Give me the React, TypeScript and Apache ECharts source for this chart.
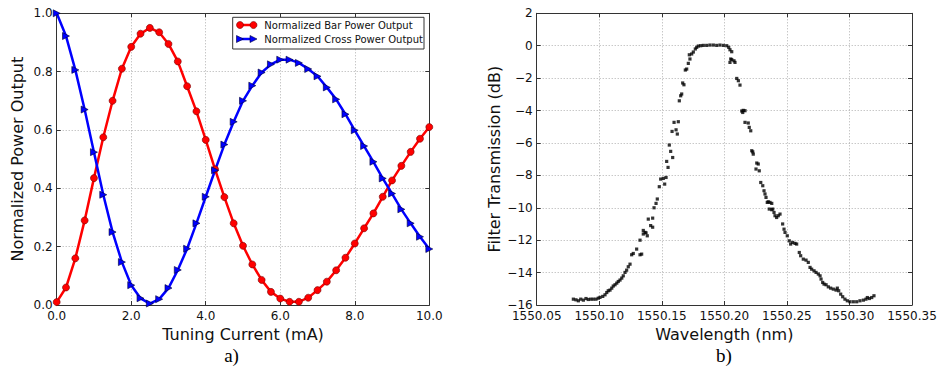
import React, { useEffect, useRef } from "react";
import * as echarts from "echarts";

// ---------- Data: panel a) ----------
const tuningCurrent = [
  0, 0.25, 0.5, 0.75, 1.0, 1.25, 1.5, 1.75, 2.0, 2.25, 2.5, 2.75, 3.0, 3.25, 3.5, 3.75,
  4.0, 4.25, 4.5, 4.75, 5.0, 5.25, 5.5, 5.75, 6.0, 6.25, 6.5, 6.75, 7.0, 7.25, 7.5, 7.75,
  8.0, 8.25, 8.5, 8.75, 9.0, 9.25, 9.5, 9.75, 10.0,
];
const barPower = [
  0.01, 0.06, 0.16, 0.29, 0.435, 0.575, 0.7, 0.81, 0.885, 0.93, 0.95, 0.935, 0.895, 0.835,
  0.75, 0.664, 0.566, 0.465, 0.37, 0.28, 0.203, 0.139, 0.086, 0.045, 0.022, 0.011, 0.011,
  0.025, 0.051, 0.08, 0.119, 0.162, 0.211, 0.263, 0.314, 0.371, 0.427, 0.477, 0.525, 0.57, 0.61,
];
const crossPower = [
  1.0, 0.922, 0.806, 0.67, 0.524, 0.378, 0.25, 0.147, 0.068, 0.023, 0.005, 0.02, 0.058, 0.12,
  0.193, 0.28, 0.371, 0.462, 0.55, 0.628, 0.7, 0.752, 0.797, 0.825, 0.841, 0.841, 0.83,
  0.809, 0.784, 0.746, 0.705, 0.654, 0.599, 0.545, 0.491, 0.434, 0.382, 0.328, 0.28, 0.234, 0.192,
];
const xTicksA = { min: 0, max: 10, interval: 2 };
const yTicksA = { min: 0, max: 1, interval: 0.2 };

// ---------- Data: panel b) ----------
const wavelength = [
  1550.0793, 1550.0814, 1550.0833, 1550.0852, 1550.0873, 1550.0894, 1550.0912, 1550.0932,
  1550.0952, 1550.0974, 1550.0992, 1550.1006, 1550.1028, 1550.1046, 1550.106, 1550.1072,
  1550.1086, 1550.11, 1550.1112, 1550.1126, 1550.114, 1550.1152, 1550.1166, 1550.118,
  1550.1192, 1550.1206, 1550.1219, 1550.1232, 1550.1246, 1550.1259, 1550.1272, 1550.1299,
  1550.1326, 1550.1339, 1550.1326, 1550.1352, 1550.1352, 1550.1366, 1550.1374, 1550.1384,
  1550.1392, 1550.1411, 1550.1427, 1550.1427, 1550.1438, 1550.1454, 1550.1464, 1550.148,
  1550.1491, 1550.1512, 1550.1523, 1550.1534, 1550.1539, 1550.155, 1550.156, 1550.1571,
  1550.1587, 1550.1582, 1550.1598, 1550.1614, 1550.1624, 1550.1632, 1550.164, 1550.1651,
  1550.1659, 1550.1667, 1550.1677, 1550.1688, 1550.1699, 1550.1712, 1550.172, 1550.1725,
  1550.1739, 1550.1752, 1550.1768, 1550.1779, 1550.1792, 1550.1811, 1550.1832, 1550.1859,
  1550.1885, 1550.1912, 1550.1939, 1550.1965, 1550.1992, 1550.2019, 1550.2035, 1550.2045,
  1550.2059, 1550.2045, 1550.2051, 1550.2059, 1550.2077, 1550.2085, 1550.2099, 1550.2112,
  1550.2125, 1550.2139, 1550.2147, 1550.2151, 1550.2165, 1550.2165, 1550.2191, 1550.2199,
  1550.2211, 1550.2219, 1550.2227, 1550.2231, 1550.2253, 1550.2259, 1550.2271, 1550.2279,
  1550.2291, 1550.2307, 1550.2317, 1550.2325, 1550.2333, 1550.2343, 1550.2351, 1550.2359,
  1550.2365, 1550.2379, 1550.2379, 1550.2387, 1550.2397, 1550.2405, 1550.2418, 1550.2431,
  1550.2445, 1550.2466, 1550.2477, 1550.2485, 1550.2503, 1550.2519, 1550.253, 1550.2546,
  1550.2565, 1550.2578, 1550.2599, 1550.261, 1550.2631, 1550.2653, 1550.2671, 1550.2685,
  1550.2698, 1550.2717, 1550.2733, 1550.2751, 1550.2765, 1550.2773, 1550.2786, 1550.2797,
  1550.2813, 1550.2831, 1550.285, 1550.2871, 1550.2893, 1550.2903, 1550.2914, 1550.293,
  1550.2946, 1550.2964, 1550.2983, 1550.3004, 1550.3031, 1550.3058, 1550.3084, 1550.3111,
  1550.3132, 1550.3143, 1550.3159, 1550.3178, 1550.3196,
];
const transmission = [
  -15.64, -15.68, -15.74, -15.64, -15.7, -15.6, -15.66, -15.64,
  -15.64, -15.64, -15.58, -15.53, -15.47, -15.37, -15.23, -15.12,
  -15.08, -14.96, -14.83, -14.75, -14.65, -14.55, -14.46, -14.34,
  -14.2, -13.99, -13.85, -13.64, -13.48, -12.9, -12.82, -12.55,
  -12.9, -12.86, -12.0, -11.62, -11.4, -11.52, -11.55, -11.73,
  -10.7, -11.1, -11.2, -10.64, -10.0, -9.73, -9.46, -8.7,
  -8.23, -8.19, -8.54, -8.13, -7.14, -7.51, -6.13, -6.52,
  -6.9, -5.29, -4.73, -5.19, -5.45, -4.69, -3.4, -3.09,
  -2.98, -2.3, -2.41, -1.5, -1.44, -1.09, -0.56, -0.82,
  -0.51, -0.39, -0.2, -0.1, -0.02, 0.0, 0.02, 0.02,
  0.04, 0.04, 0.02, 0.04, 0.02, 0.0, -0.1, -0.25,
  -0.37, -1.03, -0.82, -0.86, -0.93, -1.03, -2.02, -2.16,
  -2.43, -4.03, -4.12, -3.99, -4.01, -4.73, -4.77, -5.04,
  -5.25, -6.48, -6.55, -6.69, -7.61, -7.24, -7.3, -7.72,
  -8.44, -8.64, -8.95, -9.15, -9.36, -9.67, -9.63, -10.08,
  -9.67, -9.73, -10.12, -10.08, -10.29, -10.49, -10.6, -10.49,
  -10.39, -11.0, -11.32, -11.52, -11.73, -12.04, -12.24, -12.14,
  -12.2, -12.24, -12.76, -12.96, -13.17, -13.23, -13.37, -13.68,
  -13.79, -13.89, -13.99, -14.09, -14.2, -14.4, -14.61, -14.71,
  -14.75, -14.88, -14.96, -15.02, -15.08, -14.96, -15.12, -15.33,
  -15.49, -15.64, -15.74, -15.8, -15.8, -15.8, -15.74, -15.7,
  -15.64, -15.54, -15.6, -15.54, -15.43,
];
const xTicksB = { min: 1550.05, max: 1550.35, interval: 0.05 };
const yTicksB = { min: -16, max: 2, interval: 2 };

const seriesNames = ["Normalized Bar Power Output", "Normalized Cross Power Output"];
const captions = ["a)", "b)"];

const FONT = "DejaVu Sans";
const RED = "#ff0000";
const BLUE = "#0000ff";

const minus = (s: string) => s.replace("-", "\u2212");

function axisPair(
  kind: "x" | "y",
  grid: number,
  t: { min: number; max: number; interval: number },
  fmt: (v: number) => string
) {
  const common = {
    type: "value",
    gridIndex: grid,
    min: t.min,
    max: t.max,
    interval: t.interval,
    axisLine: { show: true, onZero: false, lineStyle: { color: "#333", width: 1 } },
    axisTick: { show: true, inside: true, length: 4, lineStyle: { color: "#333", width: 1 } },
  };
  const main = {
    ...common,
    position: kind === "x" ? "bottom" : "left",
    axisLabel: {
      show: true,
      margin: kind === "x" ? 5 : 4,
      color: "#111",
      fontFamily: FONT,
      fontSize: 12,
      formatter: (v: number) => fmt(v),
    },
    splitLine: { show: true, lineStyle: { color: "#9a9a9a", width: 0.8, type: [1, 2] } },
  };
  const secondary = {
    ...common,
    position: kind === "x" ? "top" : "right",
    axisLabel: { show: false },
    splitLine: { show: false },
  };
  return [main, secondary];
}

export default function App() {
  const ref = useRef<HTMLDivElement>(null);

  useEffect(() => {
    if (!ref.current) return;
    const chart = echarts.init(ref.current, undefined, { renderer: "svg" });

    const xA = axisPair("x", 0, xTicksA, (v) => v.toFixed(1));
    const yA = axisPair("y", 0, yTicksA, (v) => v.toFixed(1));
    const xB = axisPair("x", 1, xTicksB, (v) => v.toFixed(2));
    const yB = axisPair("y", 1, yTicksB, (v) => minus(String(Math.round(v))));

    (xA[0] as any).name = "Tuning Current (mA)";
    (yA[0] as any).name = "Normalized Power Output";
    (xB[0] as any).name = "Wavelength (nm)";
    (yB[0] as any).name = "Filter Transmission (dB)";
    const nameStyle = { fontFamily: FONT, fontSize: 16, color: "#111" };
    for (const ax of [xA[0], xB[0]] as any[]) {
      ax.nameLocation = "middle";
      ax.nameGap = 17;
      ax.nameTextStyle = nameStyle;
    }
    (yA[0] as any).nameLocation = "middle";
    (yA[0] as any).nameGap = 31;
    (yA[0] as any).nameTextStyle = nameStyle;
    (yB[0] as any).nameLocation = "middle";
    (yB[0] as any).nameGap = 34;
    (yB[0] as any).nameTextStyle = nameStyle;

    const tri = (x: number, y: number, r: number) => [
      [x - r, y - r],
      [x + r, y],
      [x - r, y + r],
    ];

    chart.setOption({
      animation: false,
      backgroundColor: "#ffffff",
      grid: [
        { left: 56.7, top: 13.3, width: 372.6, height: 291.7, containLabel: false },
        { left: 536.7, top: 13.3, width: 375.3, height: 291.7, containLabel: false },
      ],
      xAxis: [...xA, ...xB],
      yAxis: [...yA, ...yB],
      series: [
        {
          name: seriesNames[0],
          type: "line",
          xAxisIndex: 0,
          yAxisIndex: 0,
          data: tuningCurrent.map((c, i) => [c, barPower[i]]),
          symbol: "circle",
          symbolSize: 7,
          showAllSymbol: true,
          lineStyle: { color: RED, width: 2.5 },
          itemStyle: { color: RED, borderColor: "#700", borderWidth: 0.6 },
          clip: false,
          z: 3,
        },
        {
          name: seriesNames[1],
          type: "line",
          xAxisIndex: 0,
          yAxisIndex: 0,
          data: tuningCurrent.map((c, i) => [c, crossPower[i]]),
          symbol: "triangle",
          symbolRotate: -90,
          symbolSize: 7,
          showAllSymbol: true,
          lineStyle: { color: BLUE, width: 2.5 },
          itemStyle: { color: BLUE, borderColor: "#003", borderWidth: 0.6 },
          clip: false,
          z: 3,
        },
        {
          name: "Filter Transmission",
          type: "scatter",
          xAxisIndex: 2,
          yAxisIndex: 2,
          data: wavelength.map((w, i) => [w, transmission[i]]),
          symbol: "rect",
          symbolSize: 3.2,
          itemStyle: { color: "#000" },
          z: 3,
        },
      ],
      graphic: [
        {
          type: "rect",
          shape: { x: 232.7, y: 17.3, width: 191.3, height: 31.7 },
          style: { fill: "#fff", stroke: "#333", lineWidth: 1 },
          z: 10,
        },
        {
          type: "line",
          shape: { x1: 240, y1: 25, x2: 253.5, y2: 25 },
          style: { stroke: RED, lineWidth: 2.5 },
          z: 11,
        },
        { type: "circle", shape: { cx: 240, cy: 25, r: 3.5 }, style: { fill: RED, stroke: "#700", lineWidth: 0.6 }, z: 12 },
        { type: "circle", shape: { cx: 253.5, cy: 25, r: 3.5 }, style: { fill: RED, stroke: "#700", lineWidth: 0.6 }, z: 12 },
        {
          type: "text",
          x: 264.3,
          y: 25,
          style: { text: seriesNames[0], fontFamily: FONT, fontSize: 10, fill: "#111", verticalAlign: "middle", align: "left" },
          z: 12,
        },
        {
          type: "line",
          shape: { x1: 240, y1: 39, x2: 253.5, y2: 39 },
          style: { stroke: BLUE, lineWidth: 2.5 },
          z: 11,
        },
        { type: "polygon", shape: { points: tri(240, 39, 3.5) }, style: { fill: BLUE, stroke: "#003", lineWidth: 0.6 }, z: 12 },
        { type: "polygon", shape: { points: tri(253.5, 39, 3.5) }, style: { fill: BLUE, stroke: "#003", lineWidth: 0.6 }, z: 12 },
        {
          type: "text",
          x: 264.3,
          y: 39,
          style: { text: seriesNames[1], fontFamily: FONT, fontSize: 10, fill: "#111", verticalAlign: "middle", align: "left" },
          z: 12,
        },
        {
          type: "text",
          x: 231.5,
          y: 355,
          style: { text: captions[0], fontFamily: "Liberation Serif", fontSize: 19, fill: "#000", align: "center", verticalAlign: "middle" },
        },
        {
          type: "text",
          x: 724,
          y: 355,
          style: { text: captions[1], fontFamily: "Liberation Serif", fontSize: 19, fill: "#000", align: "center", verticalAlign: "middle" },
        },
      ],
    });

    return () => chart.dispose();
  }, []);

  return (
    <div
      ref={ref}
      style={{ position: "fixed", left: 0, top: 0, width: 940, height: 366, background: "#fff" }}
    />
  );
}
